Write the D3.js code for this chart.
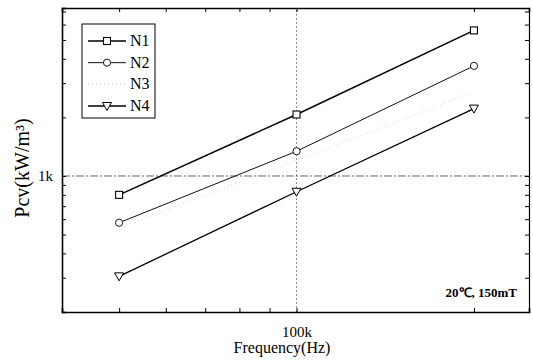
<!DOCTYPE html>
<html>
<head>
<meta charset="utf-8">
<script src="https://cdn.jsdelivr.net/npm/d3@7"></script>
<style>
  body { margin: 0; background: #fff; }
  svg text { fill: #000; }
</style>
</head>
<body>
<svg id="chart-svg" width="533" height="361"></svg>
<script>
// frequencies (Hz) and core loss (kW/m3)
var freqs = [50000, 100000, 200000];
var seriesNames = ["N1", "N2", "N3", "N4"];
var n1 = [800, 2070, 5600];
var n2 = [575, 1340, 3680];
var n3 = [540, 1200, 2700];
var n4 = [305, 830, 2220];

var xTicks = [40000, 50000, 60000, 70000, 80000, 90000, 100000, 200000];
var yTicks = [200, 300, 400, 500, 600, 700, 800, 900, 1000, 2000, 3000, 4000, 5000, 6000, 7000];
var xLabels = { 100000: "100k" };
var yLabels = { 1000: "1k" };

var serif = "Liberation Serif";

var svg = d3.select("#chart-svg");

var margin = { left: 62, right: 4, top: 8, bottom: 49 };
var width = +svg.attr("width");
var height = +svg.attr("height");

var x = d3.scaleLog()
    .domain([40000, 248000])
    .range([margin.left, width - margin.right]);

var y = d3.scaleLog()
    .domain([200, 7300])
    .range([height - margin.bottom, margin.top]);

var series = [
    { name: "N1", values: n1, marker: "square", width: 1.5, color: "#000", dash: null },
    { name: "N2", values: n2, marker: "circle", width: 1, color: "#111", dash: null },
    { name: "N3", values: n3, marker: null, width: 1, color: "#d4d4d4", dash: "1,3" },
    { name: "N4", values: n4, marker: "triangle", width: 1.3, color: "#000", dash: null }
];

// grid lines at 100k and 1k
svg.append("line")
    .attr("x1", x(100000)).attr("x2", x(100000))
    .attr("y1", y.range()[0]).attr("y2", y.range()[1])
    .attr("stroke", "#777").attr("stroke-width", 0.8)
    .attr("stroke-dasharray", "2,2");

svg.append("line")
    .attr("x1", x.range()[0]).attr("x2", x.range()[1])
    .attr("y1", y(1000)).attr("y2", y(1000))
    .attr("stroke", "#555").attr("stroke-width", 0.9)
    .attr("stroke-dasharray", "8,2,2,2");

// axes, ticks pointing inward on all four sides
var fmtX = d => xLabels[d] || "";
var fmtY = d => yLabels[d] || "";

svg.append("g")
    .attr("transform", "translate(0," + y.range()[0] + ")")
    .call(d3.axisBottom(x).tickValues(xTicks).tickSize(-4).tickPadding(14).tickFormat(fmtX))
    .call(g => g.select(".domain").attr("stroke-width", 1.6));

svg.append("g")
    .attr("transform", "translate(0," + y.range()[1] + ")")
    .call(d3.axisTop(x).tickValues(xTicks).tickSize(-4).tickFormat(""))
    .call(g => g.select(".domain").attr("stroke-width", 1.6));

svg.append("g")
    .attr("transform", "translate(" + x.range()[0] + ",0)")
    .call(d3.axisLeft(y).tickValues(yTicks).tickSize(-4).tickPadding(9).tickFormat(fmtY))
    .call(g => g.select(".domain").attr("stroke-width", 1.6));

svg.append("g")
    .attr("transform", "translate(" + x.range()[1] + ",0)")
    .call(d3.axisRight(y).tickValues(yTicks).tickSize(-4).tickFormat(""))
    .call(g => g.select(".domain").attr("stroke-width", 1.2));

svg.selectAll(".tick text")
    .attr("font-family", serif)
    .attr("font-size", 15);

// lines
var line = d3.line()
    .x((d, i) => x(freqs[i]))
    .y(d => y(d));

svg.selectAll(".series")
    .data(series)
    .enter()
    .append("path")
    .attr("class", "series")
    .attr("d", d => line(d.values))
    .attr("fill", "none")
    .attr("stroke", d => d.color)
    .attr("stroke-width", d => d.width)
    .attr("stroke-dasharray", d => d.dash);

function drawMarker(g, type, cx, cy) {
    if (type === "square") {
        g.append("rect")
            .attr("x", cx - 3.5).attr("y", cy - 3.5)
            .attr("width", 7).attr("height", 7)
            .attr("fill", "#fff").attr("stroke", "#000").attr("stroke-width", 1.1);
    } else if (type === "circle") {
        g.append("circle")
            .attr("cx", cx).attr("cy", cy).attr("r", 3.6)
            .attr("fill", "#fff").attr("stroke", "#000").attr("stroke-width", 0.9);
    } else if (type === "triangle") {
        g.append("path")
            .attr("d", "M" + (cx - 4.5) + "," + (cy - 3.5) + "L" + (cx + 4.5) + "," + (cy - 3.5) + "L" + cx + "," + (cy + 4.5) + "Z")
            .attr("fill", "#fff").attr("stroke", "#000").attr("stroke-width", 1);
    }
}

var markers = svg.append("g");
series.forEach(s => {
    if (!s.marker) return;
    s.values.forEach((v, i) => drawMarker(markers, s.marker, x(freqs[i]), y(v)));
});

// legend
var legend = svg.append("g");
legend.append("rect")
    .attr("x", 82).attr("y", 24)
    .attr("width", 73).attr("height", 94)
    .attr("fill", "#fff").attr("stroke", "#000").attr("stroke-width", 1);

var legendY = d3.scalePoint()
    .domain(seriesNames)
    .range([41, 106]);

series.forEach(s => {
    var ly = legendY(s.name);
    legend.append("line")
        .attr("x1", 88).attr("x2", 126)
        .attr("y1", ly).attr("y2", ly)
        .attr("stroke", s.color)
        .attr("stroke-width", s.width)
        .attr("stroke-dasharray", s.dash);
    drawMarker(legend, s.marker, 107, ly);
    legend.append("text")
        .attr("x", 130).attr("y", ly + 5)
        .attr("font-family", serif)
        .attr("font-size", 16)
        .text(s.name);
});

// annotation
svg.append("text")
    .attr("x", 517).attr("y", 297)
    .attr("text-anchor", "end")
    .attr("font-family", serif)
    .attr("font-size", 13)
    .attr("font-weight", "bold")
    .text("20℃, 150mT");

// axis titles
svg.append("text")
    .attr("x", 282).attr("y", 353)
    .attr("text-anchor", "middle")
    .attr("font-family", serif)
    .attr("font-size", 16)
    .text("Frequency(Hz)");

svg.append("text")
    .attr("transform", "translate(29,168) rotate(-90)")
    .attr("text-anchor", "middle")
    .attr("font-family", serif)
    .attr("font-size", 20)
    .text("Pcv(kW/m³)");
</script>
</body>
</html>
